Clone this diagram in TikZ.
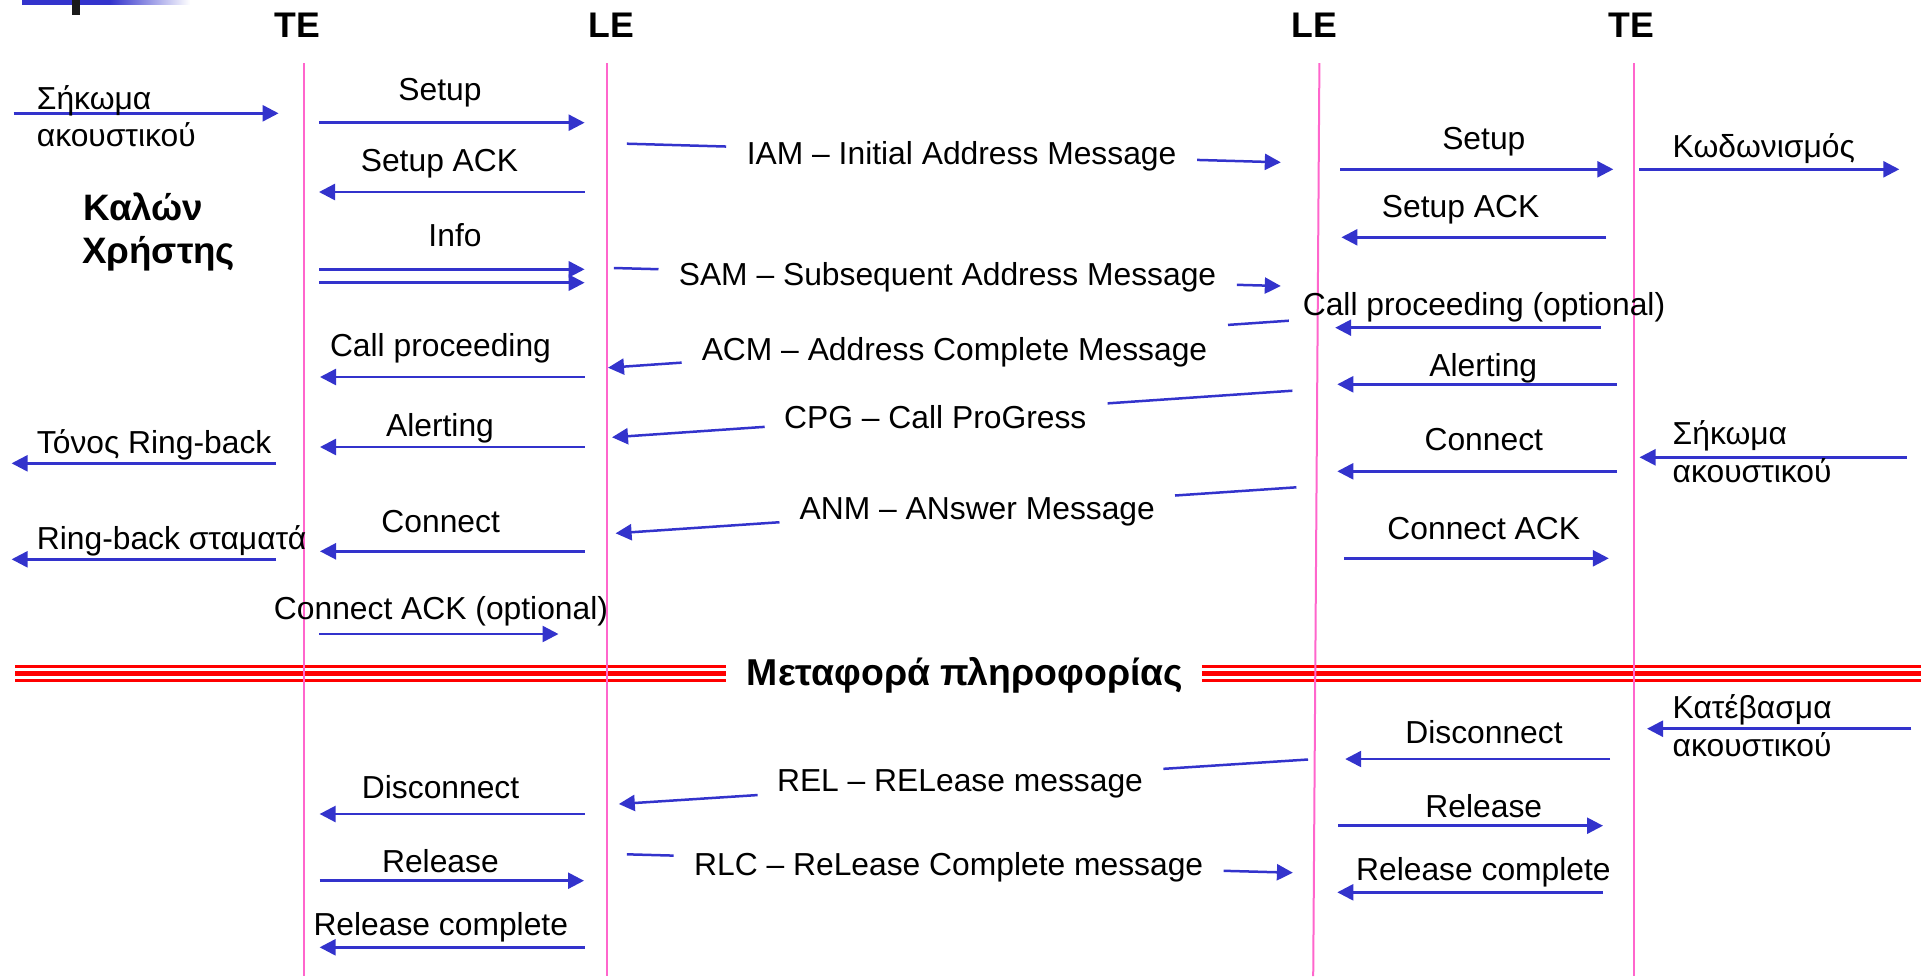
\documentclass[tikz,border=0pt]{standalone}
\usepackage{fontspec}
\setmainfont{Liberation Sans}
\usetikzlibrary{arrows.meta,calc}
\definecolor{lifepink}{HTML}{FF66CC}
\definecolor{msgblue}{HTML}{3333CC}
\definecolor{markgray}{HTML}{1A1A1A}
\newcommand\lblfont{\fontsize{15.9}{19}\selectfont}
\newcommand\hdrfont{\fontsize{17.8}{21}\selectfont\bfseries}
\newcommand\callerfont{\fontsize{18.4}{22}\selectfont\bfseries}
\newcommand\midfont{\fontsize{18.7}{22}\selectfont\bfseries}
\tikzset{
  life/.style={draw=lifepink, line width=1pt},
  msg/.style={draw=msgblue, line width=1.25pt, -{Triangle[length=8pt,width=8pt]}},
  seg/.style={draw=msgblue, line width=1.25pt},
  lbl/.style={inner sep=0pt, font=\lblfont, anchor=base},
  lblw/.style={inner sep=0pt, font=\lblfont, anchor=base west},
  hdr/.style={inner sep=0pt, font=\hdrfont, anchor=base},
  callerlbl/.style={inner sep=0pt, font=\callerfont, anchor=base west},
  midlbl/.style={inner sep=0pt, font=\midfont, anchor=base},
  redthin/.style={draw=red, line width=1.4pt},
  redthick/.style={draw=red, line width=2.3pt},
}
\begin{document}
\begin{tikzpicture}[x=0.5pt,y=-0.5pt]
\useasboundingbox (0,0) rectangle (1931,976);
% slide decoration
\fill[msgblue] (22,0) rectangle (110,4.7);
\shade[left color=msgblue, right color=white] (110,0) rectangle (190,4.7);
\fill[markgray] (72,0) rectangle (80,14.7);

% red separator
\coordinate (rl1) at (15,0); \coordinate (rl2) at (726.3,0);
\coordinate (rr1) at (1201.8,0); \coordinate (rr2) at (1921,0);
\foreach \a/\b in {rl1/rl2, rr1/rr2}{
  \draw[redthin] ($(\a)+(0,666.6)$) -- ($(\b)+(0,666.6)$);
  \draw[redthick] ($(\a)+(0,673.5)$) -- ($(\b)+(0,673.5)$);
  \draw[redthin] ($(\a)+(0,680.3)$) -- ($(\b)+(0,680.3)$);
}
\node[midlbl] (transfer) at (965,685) {Μεταφορά πληροφορίας};

% headers
\node[hdr] (hTE1) at (297,37.7) {TE};
\node[hdr] (hLE1) at (611,37.7) {LE};
\node[hdr] (hLE2) at (1314,37.7) {LE};
\node[hdr] (hTE2) at (1631,37.7) {TE};

% lifelines
\coordinate (te1t) at (304,63);    \coordinate (te1b) at (304,976);
\coordinate (le1t) at (606.5,63);  \coordinate (le1b) at (606.5,976);
\coordinate (le2t) at (1319.4,63); \coordinate (le2b) at (1313.2,976);
\coordinate (te2t) at (1634,63);   \coordinate (te2b) at (1634,976);
\draw[life] (te1t) -- (te1b);
\draw[life] (le1t) -- (le1b);
\draw[life] (le2t) -- (le2b);
\draw[life] (te2t) -- (te2b);

% ---------------- left side ----------------
\coordinate (offA) at (13.7,113.3); \coordinate (offB) at (278.6,113.3);
\draw[msg] (offA) -- (offB);
\node[lblw] (offT1) at (36.5,109.3) {Σήκωμα};
\node[lblw] (offT2) at (36.5,146.7) {ακουστικού};

\node[callerlbl] (caller1) at (83,220) {Καλών};
\node[callerlbl] (caller2) at (81.7,263.3) {Χρήστης};

\coordinate (suA) at (319,122.7); \coordinate (suB) at (584.6,122.7);
\draw[msg] (suA) -- (suB);
\node[lbl] (suT) at (440,100) {Setup};

\coordinate (saA) at (584.6,192); \coordinate (saB) at (319,192);
\draw[msg] (saA) -- (saB);
\node[lbl] (saT) at (439.5,171.7) {Setup ACK};

\node[lbl] (infoT) at (455,246.7) {Info};
\coordinate (in1A) at (319,269.3); \coordinate (in1B) at (584.6,269.3);
\coordinate (in2A) at (319,282.7); \coordinate (in2B) at (584.6,282.7);
\draw[msg] (in1A) -- (in1B);
\draw[msg] (in2A) -- (in2B);

\coordinate (cpA) at (584.6,377); \coordinate (cpB) at (320,377);
\draw[msg] (cpA) -- (cpB);
\node[lbl] (cpT) at (440.5,356.7) {Call proceeding};

\coordinate (alA) at (584.6,447); \coordinate (alB) at (320,447);
\draw[msg] (alA) -- (alB);
\node[lbl] (alT) at (440,436.7) {Alerting};

\coordinate (rbA) at (276,463.3); \coordinate (rbB) at (11.6,463.3);
\draw[msg] (rbA) -- (rbB);
\node[lblw] (rbT) at (36.5,453.3) {Τόνος Ring-back};

\coordinate (coA) at (584.6,551.3); \coordinate (coB) at (320,551.3);
\draw[msg] (coA) -- (coB);
\node[lbl] (coT) at (440.7,532.3) {Connect};

\coordinate (rsA) at (276,559.3); \coordinate (rsB) at (11.6,559.3);
\draw[msg] (rsA) -- (rsB);
\node[lblw] (rsT) at (36.5,549.3) {Ring-back σταματά};

\coordinate (caA) at (319,634); \coordinate (caB) at (558.5,634);
\draw[msg] (caA) -- (caB);
\node[lbl] (caT) at (441,619.3) {Connect ACK (optional)};

\coordinate (diA) at (584.8,814); \coordinate (diB) at (319.6,814);
\draw[msg] (diA) -- (diB);
\node[lbl] (diT) at (440.6,798.3) {Disconnect};

\coordinate (reA) at (319.6,880.7); \coordinate (reB) at (584,880.7);
\draw[msg] (reA) -- (reB);
\node[lbl] (reT) at (440.4,872.7) {Release};

\coordinate (rcA) at (584.8,947.3); \coordinate (rcB) at (319.6,947.3);
\draw[msg] (rcA) -- (rcB);
\node[lbl] (rcT) at (440.8,935) {Release complete};

% ---------------- exchange to exchange ----------------
\coordinate (iamA) at (626.8,143.7); \coordinate (iamB) at (1280.8,162.3);
\draw[seg] (iamA) -- ($(iamA)!0.152!(iamB)$);
\draw[msg] ($(iamA)!0.872!(iamB)$) -- (iamB);
\node[lbl] (iamT) at (961.6,164.3) {IAM – Initial Address Message};

\coordinate (samA) at (613.8,268); \coordinate (samB) at (1280.8,286);
\draw[seg] (samA) -- ($(samA)!0.067!(samB)$);
\draw[msg] ($(samA)!0.934!(samB)$) -- (samB);
\node[lbl] (samT) at (947.5,285.7) {SAM – Subsequent Address Message};

\coordinate (acmA) at (1288.8,320.7); \coordinate (acmB) at (608,367.7);
\draw[seg] (acmA) -- ($(acmA)!0.0893!(acmB)$);
\draw[msg] ($(acmA)!0.8918!(acmB)$) -- (acmB);
\node[lbl] (acmT) at (954.5,360) {ACM – Address Complete Message};

\coordinate (cpgA) at (1292.4,390.7); \coordinate (cpgB) at (612,437.3);
\draw[seg] (cpgA) -- ($(cpgA)!0.2716!(cpgB)$);
\draw[msg] ($(cpgA)!0.7756!(cpgB)$) -- (cpgB);
\node[lbl] (cpgT) at (935.3,428.3) {CPG – Call ProGress};

\coordinate (anmA) at (1296.4,487.3); \coordinate (anmB) at (615.6,533.3);
\draw[seg] (anmA) -- ($(anmA)!0.1783!(anmB)$);
\draw[msg] ($(anmA)!0.7593!(anmB)$) -- (anmB);
\node[lbl] (anmT) at (977.3,519.3) {ANM – ANswer Message};

\coordinate (relA) at (1308,759.5); \coordinate (relB) at (618.8,804);
\draw[seg] (relA) -- ($(relA)!0.2098!(relB)$);
\draw[msg] ($(relA)!0.7986!(relB)$) -- (relB);
\node[lbl] (relT) at (960,791.7) {REL – RELease message};

\coordinate (rlcA) at (626.8,854.3); \coordinate (rlcB) at (1292.9,872.7);
\draw[seg] (rlcA) -- ($(rlcA)!0.0704!(rlcB)$);
\draw[msg] ($(rlcA)!0.8961!(rlcB)$) -- (rlcB);
\node[lbl] (rlcT) at (948.7,875.7) {RLC – ReLease Complete message};

% ---------------- right side ----------------
\coordinate (rsuA) at (1340,169.3); \coordinate (rsuB) at (1613.3,169.3);
\draw[msg] (rsuA) -- (rsuB);
\node[lbl] (rsuT) at (1483.8,149) {Setup};

\coordinate (ringA) at (1639,169.3); \coordinate (ringB) at (1899.3,169.3);
\draw[msg] (ringA) -- (ringB);
\node[lblw] (ringT) at (1672.3,157) {Κωδωνισμός};

\coordinate (rsaA) at (1606.3,237.3); \coordinate (rsaB) at (1341.4,237.3);
\draw[msg] (rsaA) -- (rsaB);
\node[lbl] (rsaT) at (1460.6,217.7) {Setup ACK};

\coordinate (rcpA) at (1600.5,327.7); \coordinate (rcpB) at (1335.2,327.7);
\draw[msg] (rcpA) -- (rcpB);
\node[lbl] (rcpT) at (1484,315) {Call proceeding (optional)};

\coordinate (ralA) at (1616.6,384.3); \coordinate (ralB) at (1337.3,384.3);
\draw[msg] (ralA) -- (ralB);
\node[lbl] (ralT) at (1483.2,376) {Alerting};

\coordinate (rcoA) at (1617,471.3); \coordinate (rcoB) at (1337.3,471.3);
\draw[msg] (rcoA) -- (rcoB);
\node[lbl] (rcoT) at (1483.8,450.7) {Connect};

\coordinate (ansA) at (1906.8,457.3); \coordinate (ansB) at (1639.5,457.3);
\draw[msg] (ansA) -- (ansB);
\node[lblw] (ansT1) at (1672.3,444) {Σήκωμα};
\node[lblw] (ansT2) at (1672.3,482.5) {ακουστικού};

\coordinate (rcaA) at (1344.3,558.3); \coordinate (rcaB) at (1608.8,558.3);
\draw[msg] (rcaA) -- (rcaB);
\node[lbl] (rcaT) at (1483.8,539.3) {Connect ACK};

\coordinate (hupA) at (1911.4,728.7); \coordinate (hupB) at (1647,728.7);
\draw[msg] (hupA) -- (hupB);
\node[lblw] (hupT1) at (1672.3,718.3) {Κατέβασμα};
\node[lblw] (hupT2) at (1672.3,756) {ακουστικού};

\coordinate (rdiA) at (1610,759); \coordinate (rdiB) at (1345.2,759);
\draw[msg] (rdiA) -- (rdiB);
\node[lbl] (rdiT) at (1484,743.3) {Disconnect};

\coordinate (rreA) at (1338,825.7); \coordinate (rreB) at (1603,825.7);
\draw[msg] (rreA) -- (rreB);
\node[lbl] (rreT) at (1483.8,817.7) {Release};

\coordinate (rrcA) at (1603,892.3); \coordinate (rrcB) at (1337.3,892.3);
\draw[msg] (rrcA) -- (rrcB);
\node[lbl] (rrcT) at (1483.4,880) {Release complete};
\end{tikzpicture}
\end{document}
